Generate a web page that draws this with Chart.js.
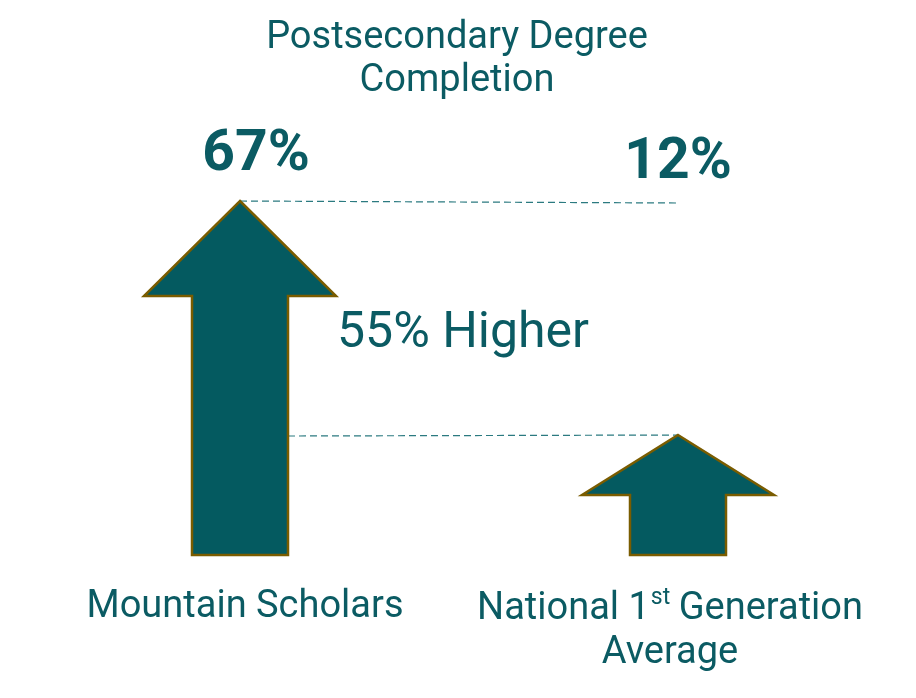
<!DOCTYPE html>
<html>
<head>
<meta charset="utf-8">
<script src="https://cdn.jsdelivr.net/npm/chart.js@4.4.1/dist/chart.umd.min.js"></script>
<style>
    html, body { margin: 0; padding: 0; background: #ffffff; }
    #wrap { width: 916px; height: 698px; }
</style>
</head>
<body>
<div id="wrap"><canvas id="completionChart"></canvas></div>
<script>

// chart values
const categories = ['Mountain Scholars', 'National 1st Generation Average'];
const completion = [67, 12];
const valueLabels = ['67%', '12%'];
const differenceLabel = '55% Higher';
const titleLines = ['Postsecondary Degree', 'Completion'];

const TEAL = '#045A60';
const TEXT = '#0B5B63';
const OUTLINE = '#7A5C00';
const FONT = 'Roboto, "Open Sans", sans-serif';

// draws the arrows in place of the bars, plus the dashed guide lines and the texts
const arrowPlugin = {
    id: 'arrows',
    afterDatasetsDraw(chart) {
        const ctx = chart.ctx;
        const bars = chart.getDatasetMeta(0).data;

        // dashed guides (under the arrows)
        ctx.save();
        ctx.strokeStyle = '#2B7A80';
        ctx.lineWidth = 1.2;
        ctx.setLineDash([7, 4]);
        ctx.beginPath();
        ctx.moveTo(bars[0].x, bars[0].y);
        ctx.lineTo(bars[1].x, bars[0].y + 2);
        ctx.moveTo(bars[0].x + bars[0].width / 2, bars[1].y + 1);
        ctx.lineTo(bars[1].x, bars[1].y);
        ctx.stroke();
        ctx.restore();

        bars.forEach((bar) => {
            const half = bar.width / 2;
            const len = bar.base - bar.y;
            const head = Math.min(95, len / 2);
            ctx.save();
            ctx.beginPath();
            ctx.moveTo(bar.x, bar.y);
            ctx.lineTo(bar.x + half * 2, bar.y + head);
            ctx.lineTo(bar.x + half, bar.y + head);
            ctx.lineTo(bar.x + half, bar.base);
            ctx.lineTo(bar.x - half, bar.base);
            ctx.lineTo(bar.x - half, bar.y + head);
            ctx.lineTo(bar.x - half * 2, bar.y + head);
            ctx.closePath();
            ctx.fillStyle = TEAL;
            ctx.fill();
            ctx.lineWidth = 2.5;
            ctx.strokeStyle = OUTLINE;
            ctx.stroke();
            ctx.restore();
        });
    },
    afterDraw(chart) {
        const ctx = chart.ctx;
        const bars = chart.getDatasetMeta(0).data;
        ctx.save();
        ctx.fillStyle = TEXT;
        ctx.textAlign = 'center';
        ctx.textBaseline = 'alphabetic';

        ctx.font = '38px ' + FONT;
        ctx.fillText(titleLines[0], 457, 48);
        ctx.fillText(titleLines[1], 457, 91);

        ctx.font = 'bold 57px ' + FONT;
        ctx.fillText(valueLabels[0], bars[0].x + 16, 170);
        ctx.fillText(valueLabels[1], bars[1].x, 178);

        ctx.font = '50px ' + FONT;
        ctx.fillText(differenceLabel, 463, 347);

        // category labels
        ctx.font = '38px ' + FONT;
        ctx.fillText(categories[0], bars[0].x + 5, 617);

        // "National 1st Generation" with a raised "st", then "Average"
        const words = categories[1].split(' ');
        const pre = words[0] + ' ' + words[1].replace('st', '');
        const sup = 'st';
        const post = ' ' + words[2];
        ctx.font = '38px ' + FONT;
        const wPre = ctx.measureText(pre).width;
        const wPost = ctx.measureText(post).width;
        ctx.font = '23px ' + FONT;
        const wSup = ctx.measureText(sup).width;
        const total = wPre + wSup + wPost;
        let x = bars[1].x - 8 - total / 2;
        ctx.textAlign = 'left';
        ctx.font = '38px ' + FONT;
        ctx.fillText(pre, x, 619);
        ctx.font = '23px ' + FONT;
        ctx.fillText(sup, x + wPre + 1, 604);
        ctx.font = '38px ' + FONT;
        ctx.fillText(post, x + wPre + wSup, 619);
        ctx.textAlign = 'center';
        ctx.fillText(words[3], bars[1].x - 8, 663);
        ctx.restore();
    }
};

const ctx = document.getElementById('completionChart');

new Chart(ctx, {
    type: 'bar',
    data: {
        labels: categories,
        datasets: [{
            label: 'Postsecondary Degree Completion',
            data: completion,
            base: -16.2,
            backgroundColor: 'rgba(0,0,0,0)',
            borderWidth: 0,
            barThickness: 96
        }]
    },
    options: {
        responsive: true,
        maintainAspectRatio: false,
        animation: false,
        layout: {
            padding: { top: 201, bottom: 143, left: 21, right: 19 }
        },
        scales: {
            x: { display: false, offset: true },
            y: { display: false, min: -16.2, max: 67 }
        },
        plugins: {
            legend: { display: false },
            tooltip: { enabled: false },
            title: { display: false }
        }
    },
    plugins: [arrowPlugin]
});
</script>
</body>
</html>
